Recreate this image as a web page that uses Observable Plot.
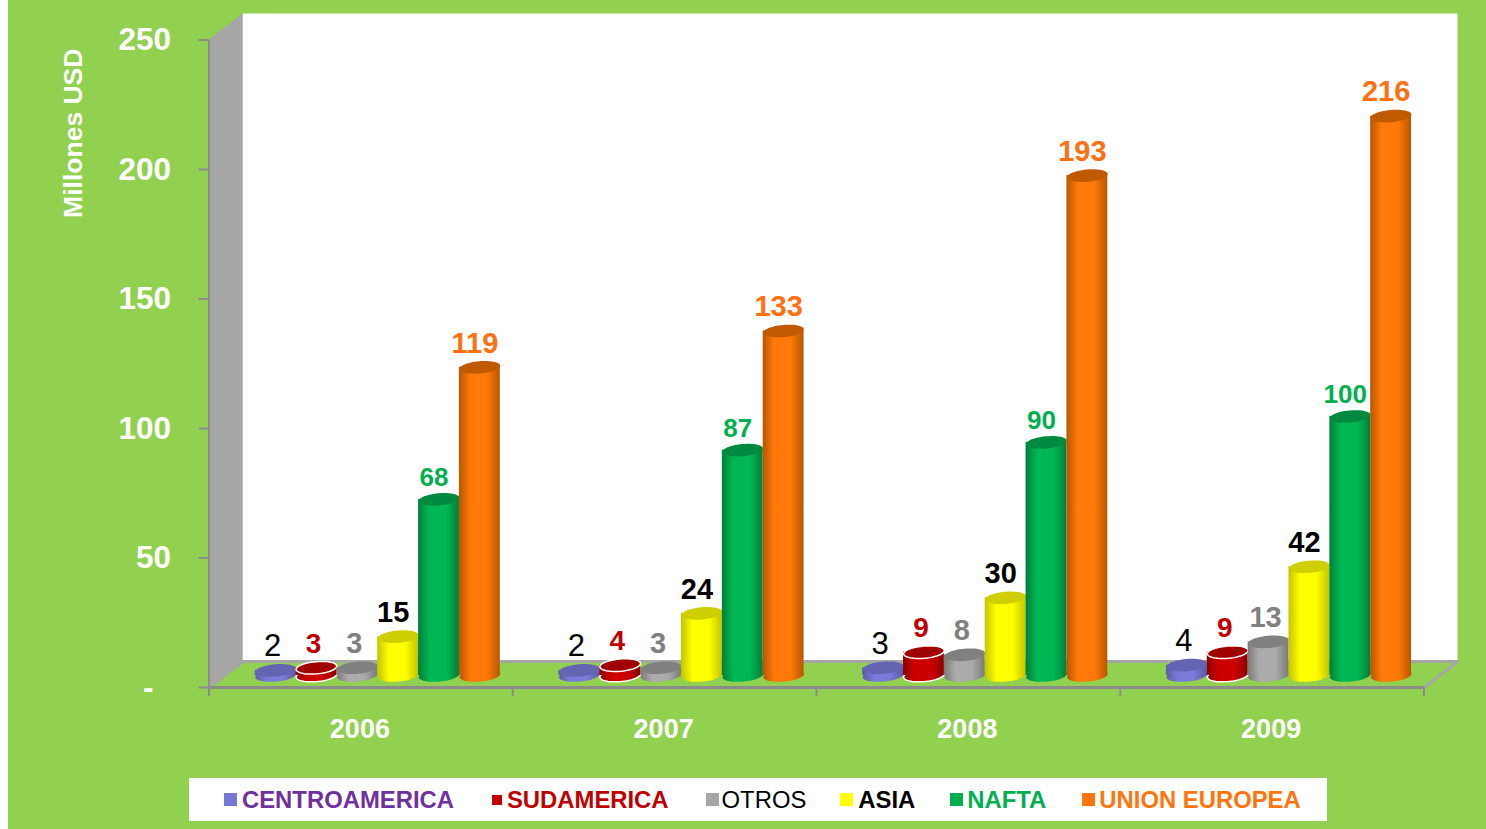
<!DOCTYPE html>
<html><head><meta charset="utf-8">
<script src="https://cdn.jsdelivr.net/npm/d3@7"></script>
<script src="https://cdn.jsdelivr.net/npm/@observablehq/plot@0.6"></script>
<style>
html,body{margin:0;padding:0;width:1486px;height:829px;overflow:hidden;background:linear-gradient(to right,#fff 8px,#92D050 8px);font-family:"Liberation Sans",Arial,sans-serif}
#chart svg{display:block;background:transparent}
#legend{position:absolute;left:189px;top:778px;width:1138px;height:43px;box-sizing:border-box;padding-left:35px;background:#fff;display:flex;align-items:center;font-size:23.85px;line-height:43px;white-space:nowrap}
#legend .item{display:flex;align-items:center}
#legend .sw{display:inline-block;width:13px;height:13px}
#legend .sw.small{width:10px;height:10px}
</style></head>
<body>
<div id="chart"></div>
<div id="legend"></div>
<script>
const years = ["2006","2007","2008","2009"];
const seriesNames = ["CENTROAMERICA","SUDAMERICA","OTROS","ASIA","NAFTA","UNION EUROPEA"];
const centroamerica = [2,2,3,4];
const sudamerica = [3,4,9,9];
const otros = [3,3,8,13];
const asia = [15,24,30,42];
const nafta = [68,87,90,100];
const unionEuropea = [119,133,193,216];
const yTicks = [0,50,100,150,200,250];

const allValues = [centroamerica,sudamerica,otros,asia,nafta,unionEuropea];
const bodyMain = ["#7B7BD8","#CC0000","#ABABAB","#FFFF00","#00B853","#FF7A0A"];
const bodyEdge = ["#5A5AA8","#8C0000","#7A7A7A","#C4C400","#007F3A","#B85600"];
const capColor = ["#6464B2","#A00000","#808080","#CFCF00","#008A40","#C05A00"];
const swatch = ["#7777D5","#C00000","#A6A6A6","#FFFF00","#00B050","#FF750B"];
const legendText = ["#7030A0","#C00000","#000000","#000000","#00B050","#FF750B"];
const legendWeight = ["bold","bold","normal","bold","bold","bold"];
const swatchGap = [5,5,3,5,4,4];
const itemGap = [38,37,34,35,36,0];
const labelColor = ["#000000","#C00000","#808080","#000000","#00B050","#FF7010"];
const labelWeight = ["normal","bold","bold","bold","bold","bold"];
const labelSize = [31,28,29,29,26,29];

const wallGrey = "#A6A6A6", lineGrey = "#8C8C8C";
// depth of the chart box and placement of the cylinders, in scale units
const depthX = 34/303.75, depthY = 26/2.592;
const start = 0.152, step = 0.1345, lift = 4.63;

// tilted flat ellipse for the cylinder caps
const ellipse = {draw(ctx, size){
  const rx = Math.sqrt(size/Math.PI), ry = rx*0.3, t = -5*Math.PI/180;
  for (let k=0;k<=48;k++){
    const a = k/48*2*Math.PI, px = rx*Math.cos(a), py = ry*Math.sin(a);
    const X = px*Math.cos(t)-py*Math.sin(t), Y = px*Math.sin(t)+py*Math.cos(t);
    k ? ctx.lineTo(X,Y) : ctx.moveTo(X,Y);
  }
  ctx.closePath();
}};

const defs = () => {
  const d = d3.create("svg:defs");
  bodyMain.forEach((m,i)=>{
    const g = d.append("linearGradient").attr("id","grad"+i);
    [[0,bodyEdge[i]],[0.28,m],[0.68,m],[1,bodyEdge[i]]].forEach(([o,c])=>g.append("stop").attr("offset",o).attr("stop-color",c));
  });
  return d.node();
};

const cylinderMarks = allValues.flatMap((vals,j)=>{
  const rows = vals.map((v,i)=>({v,x1:i+start+j*step,x2:i+start+(j+1)*step,cx:i+start+(j+0.5)*step}));
  const outline = j===1 ? {stroke:"#fff",strokeWidth:1.5} : {};
  return [
    Plot.dot(rows,{x:"cx",y:()=>lift,r:20.4,symbol:ellipse,fill:`url(#grad${j})`,...outline}),
    Plot.rectY(rows,{x1:"x1",x2:"x2",y1:()=>lift,y2:d=>d.v+lift,fill:`url(#grad${j})`}),
    Plot.dot(rows,{x:"cx",y:d=>d.v+lift,r:20.4,symbol:ellipse,fill:capColor[j],...outline}),
    Plot.text(rows,{x:"cx",y:d=>d.v+lift,text:d=>String(d.v),dx:j<3?-3:-5,dy:j===4?-22:-24,fill:labelColor[j],fontSize:labelSize[j],fontWeight:labelWeight[j],lineAnchor:"middle"})
  ];
});

const plot = Plot.plot({
  width:1486,height:770,
  marginLeft:208.5,marginRight:62.5,marginTop:39.5,marginBottom:83,
  style:{fontFamily:"Liberation Sans, Arial, sans-serif",background:"transparent",overflow:"visible"},
  x:{domain:[0,4],axis:null},
  y:{domain:[0,250],axis:null},
  marks:[
    defs,
    // back wall
    Plot.rect([0],{x1:depthX,x2:4+depthX,y1:depthY,y2:250+depthY,fill:"#fff"}),
    // side wall
    Plot.areaY([{x:0,a:0,b:250},{x:depthX,a:depthY,b:250+depthY}],{x:"x",y1:"a",y2:"b",fill:wallGrey}),
    // floor outline
    Plot.line([{x:depthX,y:depthY},{x:4+depthX,y:depthY},{x:4,y:0},{x:0,y:0},{x:depthX,y:depthY}],{x:"x",y:"y",stroke:wallGrey,strokeWidth:3,strokeLinejoin:"miter"}),
    Plot.ruleX([0],{y1:0,y2:250,stroke:lineGrey,strokeWidth:2}),
    Plot.ruleY([0],{x1:0,x2:4,stroke:lineGrey,strokeWidth:3}),
    Plot.axisY({ticks:yTicks,tickSize:10,tickPadding:28,stroke:lineGrey,strokeWidth:2,fill:"#fff",fontSize:31.5,fontWeight:"bold",label:null,tickFormat:d=>d===0?"-\u2007":String(d)}),
    Plot.axisX({ticks:[0,1,2,3,4],tickSize:9,stroke:lineGrey,strokeWidth:2,tickFormat:()=>"",label:null}),
    Plot.axisX({ticks:[0.5,1.5,2.5,3.5],tickSize:0,tickPadding:31,dx:-1,fill:"#fff",fontSize:27,fontWeight:"bold",label:null,tickFormat:d=>years[Math.floor(d)]}),
    Plot.text(["Millones USD"],{x:-0.445,y:214,text:d=>d,rotate:-90,fill:"#fff",fontSize:26.5,fontWeight:"bold"}),
    ...cylinderMarks
  ]
});
document.getElementById("chart").append(plot);

const legend = d3.select("#legend");
seriesNames.forEach((name,i)=>{
  const it = legend.append("div").attr("class","item").style("margin-right",itemGap[i]+"px");
  it.append("span").attr("class","sw"+(i===1?" small":"")).style("background",swatch[i]).style("margin-right",swatchGap[i]+"px");
  it.append("span").text(name).style("color",legendText[i]).style("font-weight",legendWeight[i]);
});
</script>
</body></html>
